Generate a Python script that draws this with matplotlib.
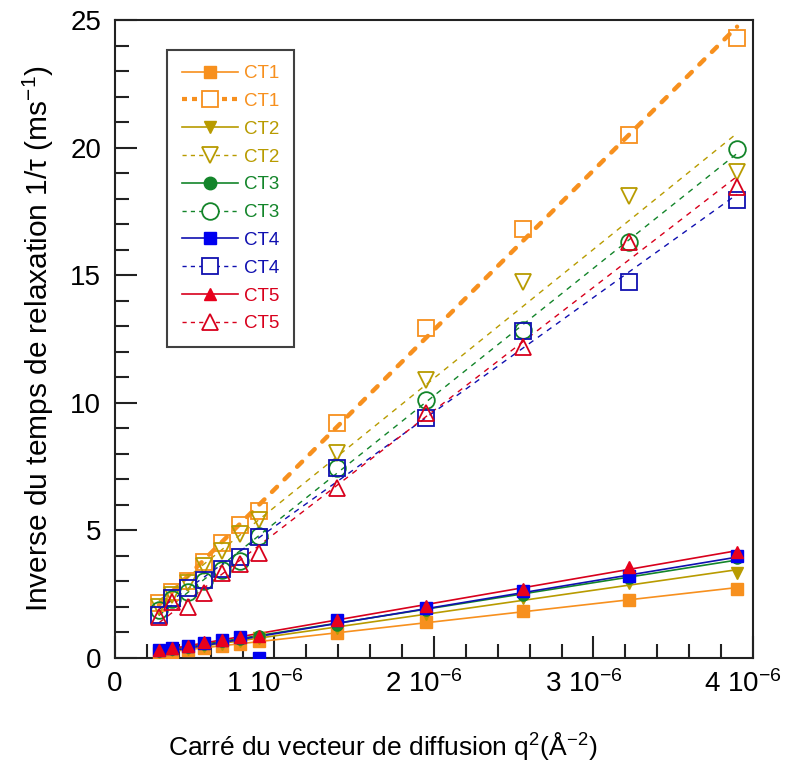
import numpy as np
import matplotlib
matplotlib.use("Agg")
import matplotlib.pyplot as plt
from matplotlib.lines import Line2D
from matplotlib.ticker import MultipleLocator, FixedLocator
import matplotlib.transforms as mtransforms

plt.rcParams['font.family'] = ['Liberation Sans', 'DejaVu Sans']
plt.rcParams['mathtext.fontset'] = 'custom'
plt.rcParams['mathtext.rm'] = 'Liberation Sans'
plt.rcParams['mathtext.default'] = 'regular'

# q^2 (x 1e-6 A^-2)
q2 = np.array([0.275, 0.356, 0.456, 0.556, 0.669, 0.781, 0.906,
               1.39, 1.95, 2.56, 3.22, 3.90]) * 1e-6

names = ["CT1", "CT2", "CT3", "CT4", "CT5"]

# 1/tau, filled symbols (lower set)
ct1_a = [0.18, 0.25, 0.30, 0.40, 0.47, 0.55, 0.68, 0.98, 1.42, 1.86, 2.27, 2.72]
ct2_a = [0.22, 0.30, 0.36, 0.48, 0.56, 0.65, 0.78, 1.18, 1.72, 2.35, 2.95, 3.34]
ct3_a = [0.28, 0.36, 0.44, 0.56, 0.66, 0.76, 0.88, 1.30, 1.90, 2.48, 3.15, 3.90]
ct4_a = [0.31, 0.40, 0.47, 0.60, 0.70, 0.81, 0.02, 1.48, 1.95, 2.62, 3.22, 4.00]
ct5_a = [0.30, 0.40, 0.48, 0.62, 0.72, 0.84, 0.86, 1.50, 2.05, 2.72, 3.58, 4.17]

# 1/tau, open symbols (upper set)
ct1_b = [2.15, 2.60, 3.00, 3.75, 4.50, 5.20, 5.75, 9.20, 12.92, 16.80, 20.50, 24.30]
ct2_b = [2.00, 2.47, 2.93, 3.60, 4.20, 4.85, 5.40, 8.03, 10.90, 14.75, 18.10, 19.06]
ct3_b = [1.88, 2.30, 2.60, 3.00, 3.45, 3.80, 4.80, 7.44, 10.10, 12.85, 16.30, 19.95]
ct4_b = [1.68, 2.34, 2.73, 3.06, 3.50, 3.95, 4.75, 7.44, 9.40, 12.80, 14.75, 17.95]
ct5_b = [1.60, 2.20, 2.00, 2.54, 3.35, 3.70, 4.10, 6.66, 9.60, 12.20, 16.30, 18.47]

lower = [ct1_a, ct2_a, ct3_a, ct4_a, ct5_a]
upper = [ct1_b, ct2_b, ct3_b, ct4_b, ct5_b]

colors = ["#F7901E", "#B89B00", "#13852A", "#1010B0", "#D8001C"]
fill_colors = ["#F7901E", "#B89B00", "#13852A", "#0000F0", "#E8001C"]
markers = ["s", "v", "o", "s", "^"]

fig = plt.figure(figsize=(7.87, 7.63), dpi=100)
ax = fig.add_axes([0.1461, 0.1376, 0.8107, 0.8362])

xfit = np.linspace(q2.min(), q2.max(), 50)
handles = []
for i in range(5):
    col = colors[i]
    ya = np.array(lower[i])
    yb = np.array(upper[i])

    # filled symbols + linear fit (solid)
    pa = np.polyfit(q2, ya, 1)
    ax.plot(xfit, np.polyval(pa, xfit), color=col, lw=1.2, zorder=2)
    ax.plot(q2, ya, ls="none", marker=markers[i], ms=8,
            mfc=fill_colors[i], mec=fill_colors[i], zorder=3)

    # open symbols + linear fit (dashed)
    pb = np.polyfit(q2, yb, 1)
    if i == 0:
        ax.plot(xfit, np.polyval(pb, xfit), color=col, lw=3.2,
                dashes=(1.6, 2.4), dash_capstyle="round", zorder=2)
    else:
        ax.plot(xfit, np.polyval(pb, xfit), color=col, lw=1.0,
                dashes=(4, 4), zorder=2)
    ax.plot(q2, yb, ls="none", marker=markers[i], ms=12,
            mfc="none", mec=col, mew=1.3, zorder=3)

    handles.append(Line2D([], [], color=col, lw=1.2, marker=markers[i], ms=9,
                          mfc=fill_colors[i], mec=fill_colors[i], label=names[i]))
    if i == 0:
        handles.append(Line2D([], [], color=col, lw=3.0, dashes=(1.2, 1.2),
                              marker=markers[i], ms=12, mfc="white", mec=col,
                              mew=1.3, label=names[i]))
    else:
        handles.append(Line2D([], [], color=col, lw=1.0, dashes=(3, 3),
                              marker=markers[i], ms=12, mfc="white", mec=col,
                              mew=1.3, label=names[i]))

ax.set_xlim(0, 4e-6)
ax.set_ylim(0, 25)

ax.xaxis.set_major_locator(FixedLocator([0, 1e-6, 2e-6, 3e-6, 4e-6]))
ax.xaxis.set_minor_locator(MultipleLocator(0.2e-6))
ax.set_xticklabels(["0", "1 10$^{-6}$", "2 10$^{-6}$", "3 10$^{-6}$", "4 10$^{-6}$"])
ax.yaxis.set_major_locator(MultipleLocator(5))
ax.yaxis.set_minor_locator(MultipleLocator(1))

ax.tick_params(which="both", direction="in", width=1.5, color="#222222",
               labelsize=20, top=False, right=False)
ax.tick_params(which="major", length=16)
ax.tick_params(which="minor", length=10)
ax.tick_params(axis="x", which="major", pad=9)
ax.tick_params(axis="y", which="major", pad=10)

shift = mtransforms.ScaledTranslation(-10 / 100, 0, fig.dpi_scale_trans)
for lab in ax.get_xticklabels()[1:]:
    lab.set_transform(lab.get_transform() + shift)

for s in ax.spines.values():
    s.set_linewidth(1.5)
    s.set_color("#222222")

ax.set_xlabel("Carré du vecteur de diffusion q$^{2}$(Å$^{-2}$)", fontsize=19)
ax.xaxis.set_label_coords(0.42, -0.113)
ax.set_ylabel("Inverse du temps de relaxation 1/τ (ms$^{-1}$)", fontsize=21.5)
ax.yaxis.set_label_coords(-0.092, 0.5)

leg = ax.legend(handles=handles, loc="upper left",
                bbox_to_anchor=(0.0815, 0.953), fontsize=13.5, handlelength=3.0,
                handletextpad=0.3, labelspacing=0.57, borderpad=0.8,
                fancybox=False, frameon=True, labelcolor="linecolor",
                borderaxespad=0)
leg.get_frame().set_edgecolor("#111111")
leg.get_frame().set_linewidth(1.5)

plt.savefig("out.png", dpi=100)
